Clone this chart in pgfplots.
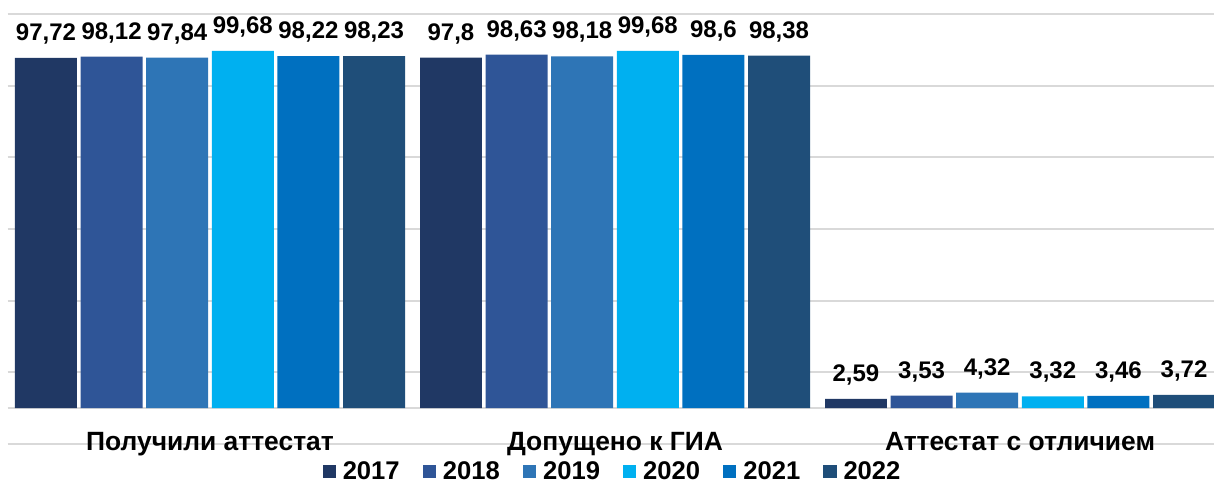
\documentclass[border=0pt]{standalone}
\usepackage{fontspec}
\setmainfont{Liberation Sans}
\usepackage{pgfplots}
\usepackage{pgfplotstable}
\pgfplotsset{compat=1.18}
\definecolor{c2017}{HTML}{203864}
\definecolor{c2018}{HTML}{2F5597}
\definecolor{c2019}{HTML}{2E75B6}
\definecolor{c2020}{HTML}{00B0F0}
\definecolor{c2021}{HTML}{0070C0}
\definecolor{c2022}{HTML}{1F4E79}
\definecolor{gridc}{HTML}{D9D9D9}
\pgfplotstableread{
cat y2017 y2018 y2019 y2020 y2021 y2022
0 97.72 98.12 97.84 99.68 98.22 98.23
1 97.8 98.63 98.18 99.68 98.6 98.38
2 2.59 3.53 4.32 3.32 3.46 3.72
}\datatable
\begin{document}
\begin{tikzpicture}
\begin{axis}[
  at={(3.75pt,21pt)}, anchor=south west,
  scale only axis, width=603.25pt, height=215pt,
  xmin=-0.5, xmax=2.479, ymin=-10, ymax=110,
  ybar, bar width=0.153,
  ytick={-10,10,...,110}, yticklabels={},
  extra y ticks={0}, extra y tick labels={}, extra y tick style={grid=major},
  ymajorgrids, major grid style={draw=gridc, line width=0.9pt},
  xtick={0,1,2},
  xticklabels={Получили аттестат, Допущено к ГИА, Аттестат с отличием},
  xticklabel style={font=\bfseries\fontsize{13.2}{13.2}\selectfont, anchor=base, yshift=-3.4pt},
  major tick length=0pt,
  axis line style={draw=none},
  /pgf/number format/.cd, use comma, fixed, precision=2, assume math mode=true, /pgfplots/.cd,
  nodes near coords,
  every node near coord/.append style={font=\bfseries\fontsize{12}{12}\selectfont, inner sep=0pt, text depth=0pt, yshift=8.5pt, black},
  clip=false,
  legend columns=6,
  legend style={at={(303pt,-21.3pt)}, anchor=south, draw=none, fill=none,
    font=\bfseries\fontsize{12.8}{12.8}\selectfont, inner sep=0pt,
    /tikz/every even column/.append style={column sep=9.5pt},
    /tikz/every odd column/.append style={column sep=1.5pt}},
  legend image code/.code={\fill[#1] (0pt,-3.3pt) rectangle (6.6pt,3.3pt);},
]
\addplot[fill=c2017, draw=none, bar shift=-0.405] table[x=cat, y=y2017] {\datatable};
\addplot[fill=c2018, draw=none, bar shift=-0.243] table[x=cat, y=y2018] {\datatable};
\addplot[fill=c2019, draw=none, bar shift=-0.081] table[x=cat, y=y2019] {\datatable};
\addplot[fill=c2020, draw=none, bar shift=0.081] table[x=cat, y=y2020] {\datatable};
\addplot[fill=c2021, draw=none, bar shift=0.243] table[x=cat, y=y2021] {\datatable};
\addplot[fill=c2022, draw=none, bar shift=0.405] table[x=cat, y=y2022] {\datatable};
\legend{2017,2018,2019,2020,2021,2022}
\end{axis}
\pgfresetboundingbox
\useasboundingbox (0,0) rectangle (607pt,243pt);
\end{tikzpicture}
\end{document}
